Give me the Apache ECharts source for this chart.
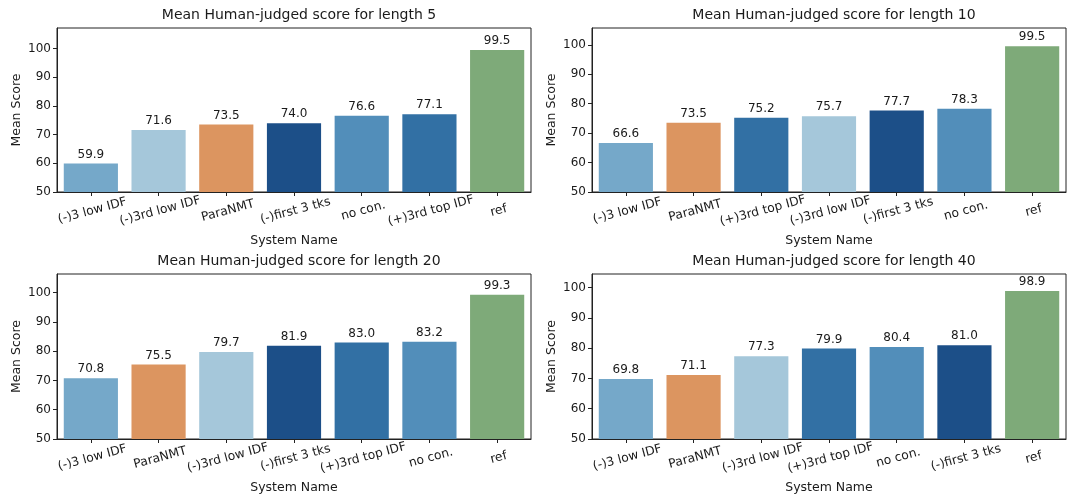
<!DOCTYPE html>
<html>
<head>
<meta charset="utf-8">
<script src="https://cdn.jsdelivr.net/npm/echarts@6/dist/echarts.min.js"></script>
<style>
html,body{margin:0;padding:0;background:#fff;}
#chart{width:1080px;height:504px;}
</style>
</head>
<body>
<div id="chart"></div>
<script>
// ---- data ----
const titles = [
  "Mean Human-judged score for length 5",
  "Mean Human-judged score for length 10",
  "Mean Human-judged score for length 20",
  "Mean Human-judged score for length 40"
];
const cats5  = ["(-)3 low IDF","(-)3rd low IDF","ParaNMT","(-)first 3 tks","no con.","(+)3rd top IDF","ref"];
const vals5  = [59.9, 71.6, 73.5, 74.0, 76.6, 77.1, 99.5];
const cats10 = ["(-)3 low IDF","ParaNMT","(+)3rd top IDF","(-)3rd low IDF","(-)first 3 tks","no con.","ref"];
const vals10 = [66.6, 73.5, 75.2, 75.7, 77.7, 78.3, 99.5];
const cats20 = ["(-)3 low IDF","ParaNMT","(-)3rd low IDF","(-)first 3 tks","(+)3rd top IDF","no con.","ref"];
const vals20 = [70.8, 75.5, 79.7, 81.9, 83.0, 83.2, 99.3];
const cats40 = ["(-)3 low IDF","ParaNMT","(-)3rd low IDF","(+)3rd top IDF","no con.","(-)first 3 tks","ref"];
const vals40 = [69.8, 71.1, 77.3, 79.9, 80.4, 81.0, 98.9];
const yTicks = [50, 60, 70, 80, 90, 100];
const yMax = [107.2, 105.7, 106.4, 104.5];
const xName = "System Name";
const yName = "Mean Score";

// ---- styles ----
const colorMap = {
  "(-)3 low IDF": "#75a8c9",
  "(-)3rd low IDF": "#a5c7da",
  "ParaNMT": "#dc9560",
  "(-)first 3 tks": "#1c4f88",
  "no con.": "#528eba",
  "(+)3rd top IDF": "#3270a4",
  "ref": "#7eaa79"
};
const FONT = "DejaVu Sans";
const TXT = "#1a1a1a";
const grids = [
  {left: 57, top: 28, width: 474, height: 164},
  {left: 592, top: 28, width: 474, height: 164},
  {left: 57, top: 274, width: 474, height: 165},
  {left: 592, top: 274, width: 474, height: 165}
];
const panels = [[cats5, vals5], [cats10, vals10], [cats20, vals20], [cats40, vals40]];

const option = {
  animation: false,
  backgroundColor: "#fff",
  textStyle: {fontFamily: FONT, color: TXT},
  title: [], grid: [], xAxis: [], yAxis: [], series: []
};

panels.forEach(([cats, vals], i) => {
  const g = grids[i];
  option.title.push({
    text: titles[i],
    left: g.left + g.width / 2,
    top: g.top - 25,
    textAlign: "center",
    textStyle: {fontFamily: FONT, fontSize: 14, fontWeight: "normal", color: TXT}
  });
  option.grid.push(Object.assign({
    show: true, borderColor: "#222", borderWidth: 1, backgroundColor: "transparent",
    containLabel: false
  }, g));
  option.xAxis.push({
    type: "category", gridIndex: i, data: cats,
    name: xName, nameLocation: "middle", nameGap: 42,
    nameTextStyle: {fontFamily: FONT, fontSize: 12.5, color: TXT},
    axisLine: {show: true, lineStyle: {color: "#222", width: 1}},
    axisTick: {show: true, alignWithLabel: true, length: 4, lineStyle: {color: "#222"}},
    axisLabel: {
      rotate: 15, interval: 0, align: "center", verticalAlign: "top", margin: 13,
      fontFamily: FONT, fontSize: 12.3, color: TXT
    },
    splitLine: {show: false}
  });
  option.yAxis.push({
    type: "value", gridIndex: i, min: 50, max: yMax[i], interval: 10,
    name: yName, nameLocation: "middle", nameGap: 34,
    nameTextStyle: {fontFamily: FONT, fontSize: 12.5, color: TXT},
    axisLine: {show: true, lineStyle: {color: "#222", width: 1}},
    axisTick: {show: true, length: 4, lineStyle: {color: "#222"}, customValues: yTicks},
    axisLabel: {fontFamily: FONT, fontSize: 12, color: TXT, margin: 6, customValues: yTicks},
    splitLine: {show: false}
  });
  option.series.push({
    type: "bar", xAxisIndex: i, yAxisIndex: i,
    barCategoryGap: "20%",
    data: vals.map((v, k) => ({value: v, itemStyle: {color: colorMap[cats[k]]}})),
    label: {
      show: true, position: "top", distance: 3,
      formatter: p => p.value.toFixed(1),
      fontFamily: FONT, fontSize: 12, color: TXT
    }
  });
});

const chart = echarts.init(document.getElementById("chart"), null, {renderer: "canvas"});
chart.setOption(option);
</script>
</body>
</html>
